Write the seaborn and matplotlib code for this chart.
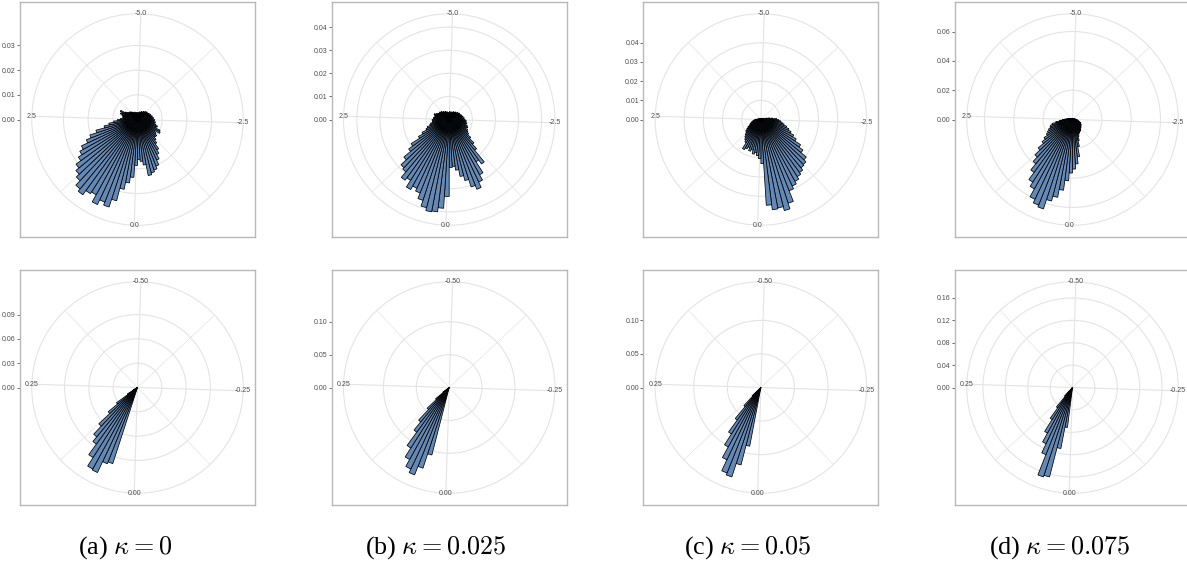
import numpy as np
import matplotlib
matplotlib.use("Agg")
import matplotlib.pyplot as plt
import seaborn as sns

# === Données ===
# haut : histogrammes de densité, 100 classes de largeur 0.1 sur [-5.05, 4.95]
top_xmin, top_binwidth = -5.05, 0.1
top_a = [0.0028, 0.0028, 0.0024, 0.0028, 0.0032, 0.0028, 0.0032, 0.0036, 0.0032, 0.0036,
         0.0041, 0.0036, 0.0045, 0.0041, 0.0049, 0.0045, 0.0049, 0.0053, 0.0049, 0.0057,
         0.0053, 0.0061, 0.0057, 0.0065, 0.0061, 0.0069, 0.0065, 0.0073, 0.0069, 0.0077,
         0.0085, 0.0081, 0.0101, 0.0105, 0.0085, 0.0093, 0.0101, 0.0097, 0.0109, 0.0122,
         0.0146, 0.0162, 0.0182, 0.0203, 0.0215, 0.0223, 0.0231, 0.0186, 0.0170, 0.0162,
         0.0186, 0.0235, 0.0259, 0.0288, 0.0340, 0.0373, 0.0360, 0.0381, 0.0348, 0.0356,
         0.0377, 0.0365, 0.0340, 0.0324, 0.0308, 0.0284, 0.0267, 0.0251, 0.0223, 0.0203,
         0.0174, 0.0138, 0.0117, 0.0097, 0.0081, 0.0069, 0.0061, 0.0057, 0.0061, 0.0065,
         0.0073, 0.0069, 0.0077, 0.0057, 0.0049, 0.0045, 0.0045, 0.0041, 0.0041, 0.0036,
         0.0036, 0.0032, 0.0032, 0.0028, 0.0032, 0.0028, 0.0024, 0.0028, 0.0028, 0.0024]
top_b = [0.0030, 0.0035, 0.0030, 0.0026, 0.0030, 0.0035, 0.0030, 0.0035, 0.0039, 0.0035,
         0.0039, 0.0043, 0.0039, 0.0043, 0.0048, 0.0043, 0.0052, 0.0048, 0.0052, 0.0056,
         0.0052, 0.0061, 0.0056, 0.0065, 0.0061, 0.0069, 0.0074, 0.0069, 0.0078, 0.0074,
         0.0082, 0.0087, 0.0082, 0.0091, 0.0095, 0.0104, 0.0121, 0.0147, 0.0173, 0.0238,
         0.0217, 0.0273, 0.0299, 0.0325, 0.0307, 0.0273, 0.0251, 0.0221, 0.0204, 0.0208,
         0.0333, 0.0385, 0.0403, 0.0407, 0.0394, 0.0368, 0.0342, 0.0329, 0.0346, 0.0312,
         0.0325, 0.0294, 0.0286, 0.0255, 0.0217, 0.0195, 0.0152, 0.0130, 0.0108, 0.0100,
         0.0087, 0.0082, 0.0074, 0.0069, 0.0074, 0.0065, 0.0069, 0.0065, 0.0061, 0.0065,
         0.0069, 0.0061, 0.0056, 0.0052, 0.0048, 0.0052, 0.0043, 0.0048, 0.0039, 0.0043,
         0.0039, 0.0035, 0.0039, 0.0035, 0.0030, 0.0035, 0.0030, 0.0026, 0.0030, 0.0030]
top_c = [0.0005, 0.0005, 0.0003, 0.0005, 0.0005, 0.0007, 0.0005, 0.0005, 0.0007, 0.0007,
         0.0007, 0.0005, 0.0008, 0.0010, 0.0008, 0.0010, 0.0012, 0.0010, 0.0013, 0.0015,
         0.0020, 0.0031, 0.0046, 0.0061, 0.0082, 0.0092, 0.0102, 0.0112, 0.0123, 0.0138,
         0.0153, 0.0169, 0.0189, 0.0210, 0.0245, 0.0271, 0.0307, 0.0322, 0.0327, 0.0342,
         0.0353, 0.0368, 0.0383, 0.0399, 0.0459, 0.0490, 0.0469, 0.0474, 0.0448, 0.0230,
         0.0204, 0.0189, 0.0174, 0.0184, 0.0164, 0.0174, 0.0158, 0.0169, 0.0179, 0.0143,
         0.0133, 0.0123, 0.0112, 0.0102, 0.0097, 0.0087, 0.0077, 0.0066, 0.0061, 0.0056,
         0.0051, 0.0046, 0.0041, 0.0036, 0.0031, 0.0026, 0.0020, 0.0015, 0.0012, 0.0010,
         0.0008, 0.0008, 0.0007, 0.0008, 0.0007, 0.0005, 0.0007, 0.0005, 0.0005, 0.0005,
         0.0003, 0.0005, 0.0005, 0.0003, 0.0005, 0.0005, 0.0003, 0.0005, 0.0005, 0.0003]
top_d = [0.0005, 0.0005, 0.0003, 0.0005, 0.0005, 0.0005, 0.0007, 0.0005, 0.0005, 0.0007,
         0.0007, 0.0007, 0.0009, 0.0007, 0.0009, 0.0009, 0.0011, 0.0009, 0.0011, 0.0012,
         0.0014, 0.0014, 0.0020, 0.0020, 0.0027, 0.0027, 0.0034, 0.0034, 0.0041, 0.0047,
         0.0054, 0.0061, 0.0061, 0.0068, 0.0068, 0.0074, 0.0074, 0.0081, 0.0081, 0.0088,
         0.0095, 0.0095, 0.0101, 0.0108, 0.0122, 0.0149, 0.0189, 0.0257, 0.0304, 0.0338,
         0.0365, 0.0419, 0.0486, 0.0540, 0.0574, 0.0641, 0.0628, 0.0601, 0.0540, 0.0506,
         0.0446, 0.0392, 0.0351, 0.0304, 0.0257, 0.0230, 0.0203, 0.0189, 0.0176, 0.0162,
         0.0155, 0.0142, 0.0115, 0.0088, 0.0068, 0.0054, 0.0041, 0.0034, 0.0027, 0.0020,
         0.0014, 0.0014, 0.0011, 0.0012, 0.0009, 0.0009, 0.0009, 0.0007, 0.0009, 0.0007,
         0.0007, 0.0009, 0.0007, 0.0005, 0.0007, 0.0003, 0.0005, 0.0005, 0.0003, 0.0005]

# bas : classes de largeur 0.01 sur [-0.505, 0.495], seules les classes non vides
bottom_xmin, bottom_binwidth = -0.505, 0.01
bottom_a_x = [0.05, 0.06, 0.07, 0.08, 0.09, 0.10, 0.11, 0.12, 0.13, 0.14, 0.15, 0.16]
bottom_a_y = [0.0987, 0.1012, 0.1160, 0.1148, 0.1024, 0.0864, 0.0790, 0.0654, 0.0469, 0.0321, 0.0148, 0.0062]
bottom_b_x = [0.04, 0.05, 0.06, 0.07, 0.08, 0.09, 0.10, 0.11, 0.12, 0.13, 0.14]
bottom_b_y = [0.106, 0.129, 0.143, 0.137, 0.125, 0.109, 0.084, 0.068, 0.046, 0.027, 0.012]
bottom_c_x = [0.03, 0.04, 0.05, 0.06, 0.07, 0.08, 0.09, 0.10, 0.11, 0.12]
bottom_c_y = [0.089, 0.119, 0.140, 0.137, 0.119, 0.101, 0.082, 0.060, 0.037, 0.018]
bottom_d_x = [0.02, 0.03, 0.04, 0.05, 0.06, 0.07, 0.08, 0.09, 0.10, 0.11]
bottom_d_y = [0.072, 0.111, 0.165, 0.168, 0.129, 0.111, 0.093, 0.068, 0.045, 0.021]

# graduations
top_rbreaks = [[0, 0.01, 0.02, 0.03], [0, 0.01, 0.02, 0.03, 0.04],
               [0, 0.01, 0.02, 0.03, 0.04], [0, 0.02, 0.04, 0.06]]
bottom_rbreaks = [[0, 0.03, 0.06, 0.09], [0, 0.05, 0.10],
                  [0, 0.05, 0.10], [0, 0.04, 0.08, 0.12, 0.16]]
top_theta_breaks = [-5.0, -2.5, 0.0, 2.5]
top_theta_labels = ["-5.0", "-2.5", "0.0", "2.5"]
top_theta_minor = [-3.75, -1.25, 1.25, 3.75]
bottom_theta_breaks = [-0.5, -0.25, 0.0, 0.25]
bottom_theta_labels = ["-0.50", "-0.25", "0.00", "0.25"]
bottom_theta_minor = [-0.375, -0.125, 0.125, 0.375]

captions = [r"(a) $\kappa = 0$", r"(b) $\kappa = 0.025$",
            r"(c) $\kappa = 0.05$", r"(d) $\kappa = 0.075$"]

# === Mise en page ===
sns.set_theme(style="white")
plt.rcParams['font.family'] = ['Liberation Sans', 'DejaVu Sans']
plt.rcParams['mathtext.fontset'] = 'cm'

W, H = 1187, 571
fig = plt.figure(figsize=(W / 100, H / 100), dpi=100)
fig.patch.set_facecolor("white")

col_x = [20, 331.7, 643.4, 955]
row_y = [2, 270]
box = 235
caption_x = [125, 436, 748, 1060]

BAR_FILL = "#6589b6"
GRID = "#e4e4e4"
TEXT = "#4d4d4d"
FS = 5.0


def draw_panel(col, row, x_vals, heights, xmin, binwidth, rbreaks,
               theta_breaks, theta_labels, theta_minor):
    left, top = col_x[col], row_y[row]
    span = 100 * binwidth
    to_theta = lambda v: 2 * np.pi * (np.asarray(v) - xmin) / span
    rmax = max(heights)

    # cadre + axe radial (à gauche)
    bg = fig.add_axes([left / W, 1 - (top + box) / H, box / W, box / H])
    bg.set_facecolor("white")
    bg.set_xlim(0, 1)
    bg.set_ylim(-1.25 * rmax, 1.25 * rmax)
    bg.set_xticks([])
    bg.set_yticks(rbreaks)
    bg.set_yticklabels([f"{b:.2f}" for b in rbreaks], fontsize=FS, color=TEXT)
    bg.tick_params(axis='y', left=True, length=2.0, width=0.5, pad=1.2, color="#333333")
    for sp in bg.spines.values():
        sp.set_color("#b8b8b8")
        sp.set_linewidth(1.0)

    # repère polaire (cercle extérieur à 0.45 du panneau)
    side = 0.9 * box
    ax = fig.add_axes([(left + 0.05 * box) / W, 1 - (top + 0.95 * box) / H, side / W, side / H],
                      projection='polar')
    ax.set_facecolor("none")
    ax.set_theta_zero_location('N')
    ax.set_theta_direction(-1)
    ax.set_axisbelow(True)

    edges = xmin + binwidth * np.arange(101)
    sns.histplot(x=to_theta(x_vals), weights=heights, bins=list(to_theta(edges)), ax=ax,
                 stat="count", color=BAR_FILL, edgecolor="black", linewidth=0.55,
                 alpha=1, legend=False)
    ax.set_xlabel("")
    ax.set_ylabel("")

    ax.set_ylim(0, rmax * 0.45 / 0.4)
    ax.set_yticks([b for b in rbreaks if b > 0])
    ax.set_yticklabels([])
    ax.set_xticks(to_theta(theta_breaks))
    ax.set_xticks(to_theta(theta_minor), minor=True)
    ax.set_xticklabels([])
    ax.tick_params(axis='x', which='both', length=0)
    ax.xaxis.grid(True, which='major', color=GRID, linewidth=0.8)
    ax.xaxis.grid(True, which='minor', color=GRID, linewidth=0.5)
    ax.yaxis.grid(True, color=GRID, linewidth=0.8)
    ax.spines['polar'].set_color(GRID)
    ax.spines['polar'].set_linewidth(0.8)

    r_out = rmax * 0.45 / 0.4
    for t, lab in zip(to_theta(theta_breaks), theta_labels):
        ax.text(t, r_out, lab, ha='center', va='center', fontsize=FS,
                color=TEXT, clip_on=False)


top_data = [top_a, top_b, top_c, top_d]
top_x = list(np.round(top_xmin + top_binwidth * (np.arange(100) + 0.5), 2))
for i in range(4):
    draw_panel(i, 0, top_x, top_data[i], top_xmin, top_binwidth, top_rbreaks[i],
               top_theta_breaks, top_theta_labels, top_theta_minor)

bottom_x = [bottom_a_x, bottom_b_x, bottom_c_x, bottom_d_x]
bottom_y = [bottom_a_y, bottom_b_y, bottom_c_y, bottom_d_y]
for i in range(4):
    draw_panel(i, 1, bottom_x[i], bottom_y[i], bottom_xmin, bottom_binwidth, bottom_rbreaks[i],
               bottom_theta_breaks, bottom_theta_labels, bottom_theta_minor)

for cx, cap in zip(caption_x, captions):
    fig.text(cx / W, 1 - 548 / H, cap, ha='center', va='center', fontsize=18.8,
             family='Liberation Serif', color='black')

fig.savefig("out.png", dpi=100, facecolor="white")
plt.close(fig)
